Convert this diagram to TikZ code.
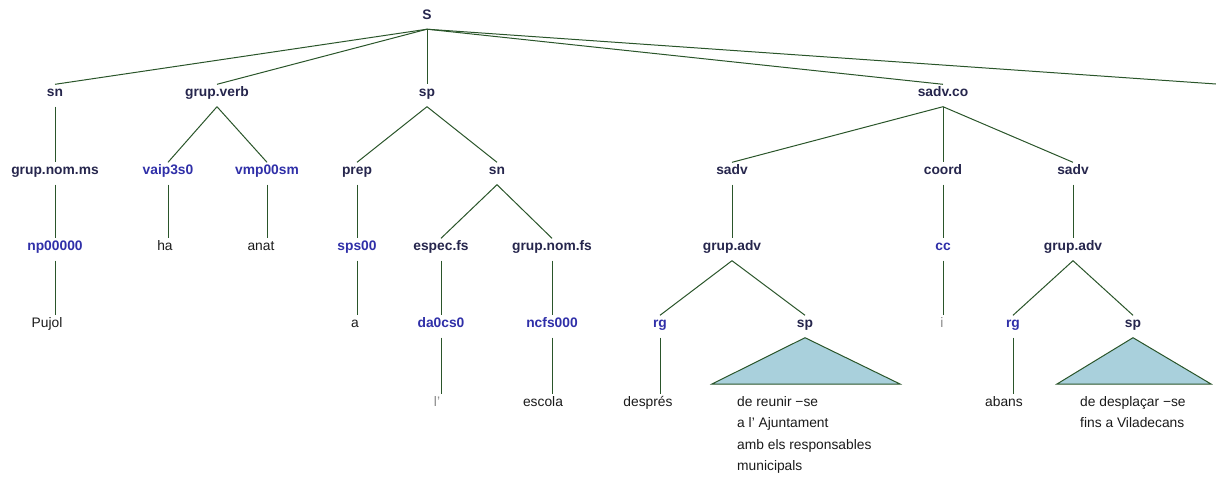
\documentclass[tikz,border=0pt]{standalone}
\usepackage{fontspec}
\setmainfont{Liberation Sans}
\definecolor{catc}{HTML}{26264D}
\definecolor{tagc}{HTML}{2F2FA8}
\definecolor{wordc}{HTML}{1A1A1A}
\definecolor{grayw}{HTML}{8A8A8A}
\definecolor{linec}{HTML}{2A552A}
\definecolor{trif}{HTML}{A9D0DC}
\tikzset{
  lbl/.style={inner sep=0pt, text height=12pt, text depth=10pt, font=\fontsize{13.8}{16}\selectfont},
  cat/.style={lbl, text=catc, font=\fontsize{13.8}{16}\selectfont\bfseries},
  tag/.style={lbl, text=tagc, font=\fontsize{13.8}{16}\selectfont\bfseries},
  word/.style={lbl, text=wordc},
  block/.style={inner sep=0pt, align=left, anchor=north west, text=wordc, font=\fontsize{13.8}{21.5}\selectfont},
  br/.style={draw=linec, line width=1pt},
  tri/.style={draw=linec, line width=1pt, fill=trif, line join=miter},
}
\begin{document}
\begin{tikzpicture}[x=1pt, y=-1pt]
\useasboundingbox (0,0) rectangle (1216,477);
% level 0
\node[cat] (S) at (427,18) {S};
% level 1
\node[cat] (sn1) at (55,95.5) {sn};
\node[cat] (gv) at (217,95.5) {grup.verb};
\node[cat] (sp1) at (427,95.5) {sp};
\node[cat] (sadvco) at (943,95.5) {sadv.co};
\coordinate (off) at (1216,84);
% level 2
\node[cat] (gnms) at (55,173.5) {grup.nom.ms};
\node[tag] (vaip) at (168,173.5) {vaip3s0};
\node[tag] (vmp) at (267,173.5) {vmp00sm};
\node[cat] (prep) at (357,173.5) {prep};
\node[cat] (sn2) at (497,173.5) {sn};
\node[cat] (sadv1) at (732,173.5) {sadv};
\node[cat] (coord) at (943,173.5) {coord};
\node[cat] (sadv2) at (1073,173.5) {sadv};
% level 3
\node[tag] (np) at (55,249.5) {np00000};
\node[word] (ha) at (165,249.5) {ha};
\node[word] (anat) at (261,249.5) {anat};
\node[tag] (sps) at (357,249.5) {sps00};
\node[cat] (espec) at (441,249.5) {espec.fs};
\node[cat] (gnfs) at (552,249.5) {grup.nom.fs};
\node[cat] (gadv1) at (732,249.5) {grup.adv};
\node[tag] (cc) at (943,249.5) {cc};
\node[cat] (gadv2) at (1073,249.5) {grup.adv};
% level 4
\node[word] (pujol) at (47,326.5) {Pujol};
\node[word] (a) at (355,326.5) {a};
\node[tag] (da) at (441,326.5) {da0cs0};
\node[tag] (ncfs) at (552,326.5) {ncfs000};
\node[tag] (rg1) at (660,326.5) {rg};
\node[cat] (sp3) at (805,326.5) {sp};
\node[word, text=grayw] (i) at (942,326.5) {i};
\node[tag] (rg2) at (1013,326.5) {rg};
\node[cat] (sp4) at (1133,326.5) {sp};
% level 5
\node[word, text=grayw] (l) at (437,405.5) {l’};
\node[word] (escola) at (543,405.5) {escola};
\node[word] (despres) at (648,405.5) {després};
\node[word] (abans) at (1004,405.5) {abans};
\node[block] (ph1) at (737,396) {de reunir −se\\a l’ Ajuntament\\amb els responsables\\municipals};
\node[block] (ph2) at (1080,396) {de desplaçar −se\\fins a Viladecans};
% branches
\draw[br] (S.south) -- (sn1.north);
\draw[br] (S.south) -- (gv.north);
\draw[br] (S.south) -- (sp1.north);
\draw[br] (S.south) -- (sadvco.north);
\draw[br] (S.south) -- (off);
\draw[br] (sn1.south) -- (gnms.north);
\draw[br] (gv.south) -- (vaip.north);
\draw[br] (gv.south) -- (vmp.north);
\draw[br] (sp1.south) -- (prep.north);
\draw[br] (sp1.south) -- (sn2.north);
\draw[br] (sadvco.south) -- (sadv1.north);
\draw[br] (sadvco.south) -- (coord.north);
\draw[br] (sadvco.south) -- (sadv2.north);
\draw[br] (gnms.south) -- (np.north);
\draw[br] (vaip.south) -- (vaip.south |- ha.north);
\draw[br] (vmp.south) -- (vmp.south |- anat.north);
\draw[br] (prep.south) -- (sps.north);
\draw[br] (sn2.south) -- (espec.north);
\draw[br] (sn2.south) -- (gnfs.north);
\draw[br] (sadv1.south) -- (gadv1.north);
\draw[br] (coord.south) -- (cc.north);
\draw[br] (sadv2.south) -- (gadv2.north);
\draw[br] (np.south) -- (np.south |- pujol.north);
\draw[br] (sps.south) -- (sps.south |- a.north);
\draw[br] (espec.south) -- (da.north);
\draw[br] (gnfs.south) -- (ncfs.north);
\draw[br] (gadv1.south) -- (rg1.north);
\draw[br] (gadv1.south) -- (sp3.north);
\draw[br] (cc.south) -- (cc.south |- i.north);
\draw[br] (gadv2.south) -- (rg2.north);
\draw[br] (gadv2.south) -- (sp4.north);
\draw[br] (da.south) -- (da.south |- l.north);
\draw[br] (ncfs.south) -- (ncfs.south |- escola.north);
\draw[br] (rg1.south) -- (rg1.south |- despres.north);
\draw[br] (rg2.south) -- (rg2.south |- abans.north);
% collapsed subtrees
\draw[tri] (sp3.south) -- (712,384) -- (900,384) -- cycle;
\draw[tri] (sp4.south) -- (1057,384) -- (1211,384) -- cycle;
\end{tikzpicture}
\end{document}
